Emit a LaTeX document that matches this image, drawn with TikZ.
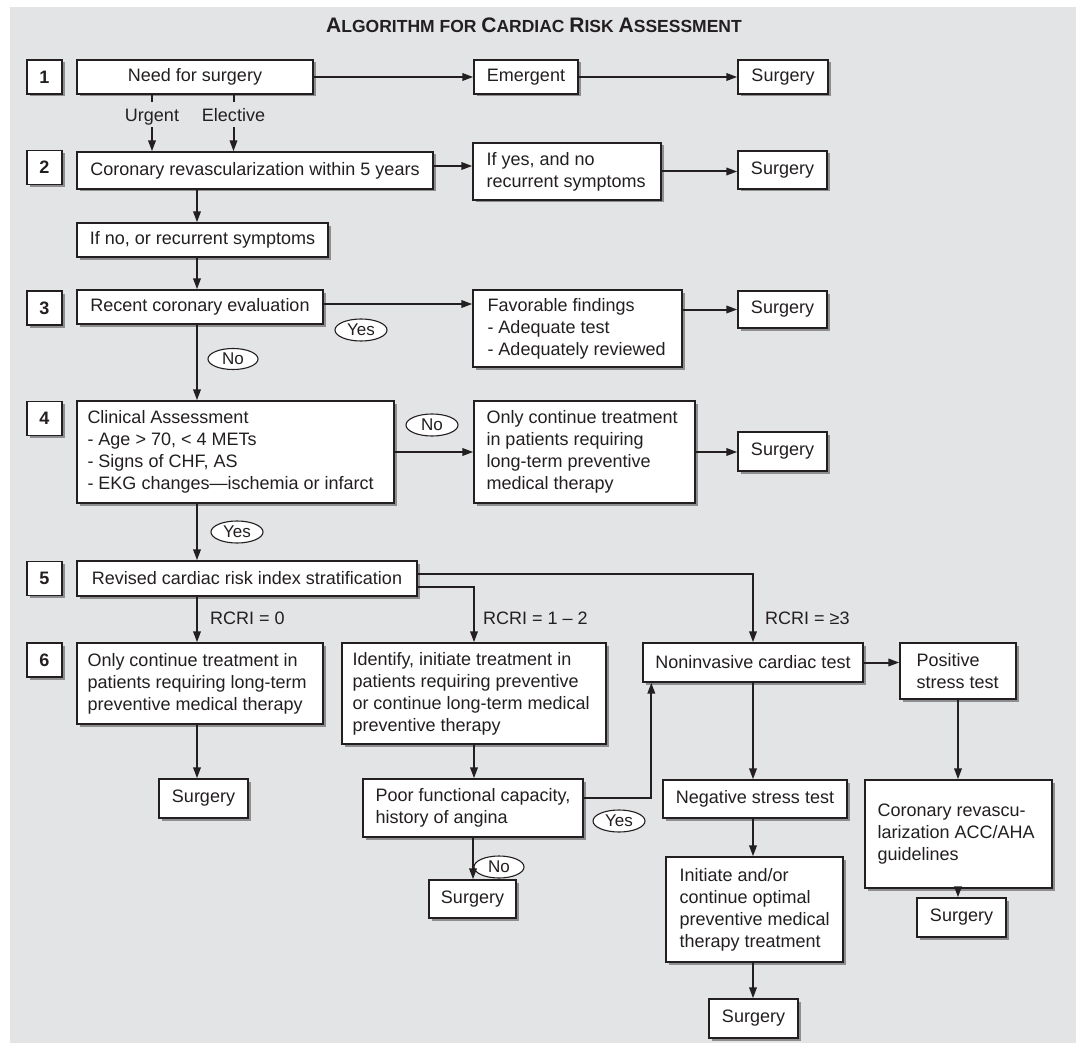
\documentclass[tikz,border=0pt]{standalone}
\usepackage{fontspec}
\setmainfont{Liberation Sans}
\usetikzlibrary{arrows.meta,shapes.geometric,shadows,calc}
\definecolor{panel}{HTML}{E3E4E6}
\definecolor{shad}{HTML}{8E8E90}
\definecolor{ink}{HTML}{231F20}
\newcommand\TTbig[1]{{\fontsize{21}{24}\selectfont #1}}
\begin{document}
\begin{tikzpicture}[x=1pt,y=-1pt,
  font=\fontsize{18}{22}\selectfont,
  box/.style={draw=ink, line width=1.4pt, fill=white, inner sep=0pt, text=ink, align=center,
    general shadow={fill=shad, shadow xshift=2.5pt, shadow yshift=-2.5pt}},
  txt/.style={inner sep=0pt, align=left, anchor=west, text=ink},
  numbox/.style={box, minimum width=35pt, minimum height=34pt, font=\bfseries\fontsize{18}{22}\selectfont},
  oval/.style={ellipse, draw=ink, line width=1.1pt, fill=white, inner sep=0pt, minimum width=52pt,
    minimum height=22pt, font=\fontsize{17}{20}\selectfont, text=ink},
  lbl/.style={inner sep=0pt, text=ink},
  arr/.style={draw=ink, line width=2pt, -{Triangle[length=11pt,width=7.5pt]}},
  ln/.style={draw=ink, line width=2pt},
]
\useasboundingbox (0,0) rectangle (1081,1043);
\fill[panel] (10,7) rectangle (1076,1043);

% title
\node[lbl, anchor=base, font=\bfseries\fontsize{17.5}{20}\selectfont] (title) at (534,33)
  {\TTbig{A}LGORITHM FOR \TTbig{C}ARDIAC \TTbig{R}ISK \TTbig{A}SSESSMENT};

\coordinate (spine) at (197,0);

% step numbers
\node[numbox] (s1) at (44.5,77) {1};
\node[numbox] (s2) at (44.5,167.5) {2};
\node[numbox] (s3) at (44.5,308) {3};
\node[numbox] (s4) at (44.5,418.5) {4};
\node[numbox] (s5) at (44.5,578.5) {5};
\node[numbox] (s6) at (44.5,660) {6};

% row 1
\node[box, minimum width=236pt, minimum height=34pt] (need) at (195,77) {Need for surgery};
\node[box, minimum width=104pt, minimum height=34pt] (emer) at (526,77) {Emergent};
\node[box, minimum width=90pt, minimum height=34pt] (surg1) at (783,77) {Surgery};
\node[lbl, anchor=base] (urg) at (152,121.5) {Urgent};
\node[lbl, anchor=base] (elec) at (233.5,121.5) {Elective};

% row 2
\node[box, minimum width=356pt, minimum height=37pt] (corev) at (255,170.5) {Coronary revascularization within 5 years};
\node[box, minimum width=188pt, minimum height=57pt] (ifyes) at (567,171.5) {};
\node[txt] (ifyesT) at ([xshift=14pt]ifyes.west) {If yes, and no\\recurrent symptoms};
\node[box, minimum width=89pt, minimum height=38pt] (surg2) at (782.5,170) {Surgery};
\node[box, minimum width=251pt, minimum height=34pt] (ifno) at (202.5,240) {If no, or recurrent symptoms};

% row 3
\node[box, minimum width=246pt, minimum height=34pt] (recent) at (200,307) {Recent coronary evaluation};
\node[box, minimum width=209pt, minimum height=77pt] (fav) at (577.5,328.5) {};
\node[txt] (favT) at ([xshift=15pt]fav.west) {Favorable findings\\- Adequate test\\- Adequately reviewed};
\node[box, minimum width=89pt, minimum height=37pt] (surg3) at (782.5,309.5) {Surgery};
\node[oval] (yes3) at (361,330) {Yes};
\node[oval, minimum width=50pt, minimum height=21pt] (no3) at (233,359) {No};

% row 4
\node[box, minimum width=317pt, minimum height=102pt] (clin) at (235.5,452) {};
\node[txt] (clinT) at ([xshift=11pt]clin.west) {Clinical Assessment\\- Age > 70, < 4 METs\\- Signs of CHF, AS\\- EKG changes—ischemia or infarct};
\node[box, minimum width=221pt, minimum height=102pt] (only4) at (584.5,452) {};
\node[txt] (only4T) at ([xshift=13pt]only4.west) {Only continue treatment\\in patients requiring\\long-term preventive\\medical therapy};
\node[box, minimum width=89pt, minimum height=39pt] (surg4) at (782.5,451.5) {Surgery};
\node[oval] (no4) at (432,425) {No};
\node[oval] (yes4) at (237,532) {Yes};

% row 5
\node[box, minimum width=340pt, minimum height=35pt] (rcri) at (247,578.5) {Revised cardiac risk index stratification};
\node[lbl, anchor=base west] (r0) at (210,624) {RCRI = 0};
\node[lbl, anchor=base west] (r12) at (483,624) {RCRI = 1 – 2};
\node[lbl, anchor=base west] (r3) at (765,624) {RCRI = ≥3};

% row 6
\node[box, minimum width=246pt, minimum height=81pt] (only6) at (200,683.5) {};
\node[txt] (only6T) at ([xshift=11pt]only6.west) {Only continue treatment in\\patients requiring long-term\\preventive medical therapy};
\node[box, minimum width=89pt, minimum height=39pt] (surg6a) at (203.5,798.5) {Surgery};
\node[box, minimum width=264pt, minimum height=101pt] (ident) at (474,693.5) {};
\node[txt] (identT) at ([xshift=11pt]ident.west) {Identify, initiate treatment in\\patients requiring preventive\\or continue long-term medical\\preventive therapy};
\node[box, minimum width=220pt, minimum height=58pt] (poor) at (473,808) {};
\node[txt] (poorT) at ([xshift=13pt]poor.west) {Poor functional capacity,\\history of angina};
\node[box, minimum width=87pt, minimum height=38pt] (surg6b) at (472.5,899) {Surgery};
\node[oval] (yes6) at (619,821) {Yes};
\node[oval, minimum width=50pt] (no6) at (499,867) {No};

\node[box, minimum width=220pt, minimum height=39pt] (nonin) at (753,662.5) {Noninvasive cardiac test};
\node[box, minimum width=116pt, minimum height=56pt] (pos) at (958,671) {};
\node[txt] (posT) at ([xshift=17pt]pos.west) {Positive\\stress test};
\node[box, minimum width=184pt, minimum height=38pt] (neg) at (755,799) {Negative stress test};
\node[box, minimum width=187pt, minimum height=108pt] (cor) at (958.5,834) {};
\node[txt] (corT) at ([xshift=13pt]cor.west) {Coronary revascu-\\larization ACC/AHA\\guidelines};
\node[box, minimum width=89pt, minimum height=39pt] (surg6c) at (961.5,917.5) {Surgery};
\node[box, minimum width=177pt, minimum height=105pt] (init) at (754.5,909.5) {};
\node[txt] (initT) at ([xshift=14pt]init.west) {Initiate and/or\\continue optimal\\preventive medical\\therapy treatment};
\node[box, minimum width=89pt, minimum height=39pt] (surg6d) at (753.5,1018.5) {Surgery};

% connectors row 1
\draw[arr] (need.east) -- (emer.west);
\draw[arr] (emer.east) -- (surg1.west);
\draw[ln] (need.south -| urg.base) -- ([yshift=19pt]urg.base);
\draw[ln] (need.south -| elec.base) -- ([yshift=19pt]elec.base);
\draw[arr] ([yshift=-6pt]urg.base) -- (urg.base |- corev.north);
\draw[arr] ([yshift=-6pt]elec.base) -- (elec.base |- corev.north);

% row 2
\draw[arr] ([yshift=4.5pt]corev.east) -- ([yshift=4.5pt]corev.east -| ifyes.west);
\draw[arr] (ifyes.east) -- (ifyes.east -| surg2.west);
\draw[arr] (corev.south -| spine) -- (ifno.north -| spine);
\draw[arr] (ifno.south -| spine) -- (recent.north -| spine);

% row 3
\draw[arr] ([yshift=3pt]recent.east) -- ([yshift=3pt]recent.east -| fav.west);
\draw[arr] (surg3.west -| fav.east) -- (surg3.west);
\draw[arr] (recent.south -| spine) -- (clin.north -| spine);

% row 4
\draw[arr] (clin.east) -- (clin.east -| only4.west);
\draw[arr] (only4.east) -- (only4.east -| surg4.west);
\draw[arr] (clin.south -| spine) -- (rcri.north -| spine);

% row 5
\draw[arr] (rcri.south -| spine) -- (only6.north -| spine);
\draw[arr] ([yshift=-8.5pt]rcri.east) -| (ident.north);
\draw[arr] ([yshift=4.5pt]rcri.east) -| (nonin.north);

% row 6
\draw[arr] (only6.south -| spine) -- (surg6a.north -| spine);
\draw[arr] (ident.south) -- (ident.south |- poor.north);
\draw[arr] ([yshift=10pt]poor.east) -| ([xshift=9pt]nonin.south west);
\draw[arr] (poor.south) -- (poor.south |- surg6b.north);
\draw[arr] (nonin.east) -- (nonin.east -| pos.west);
\draw[arr] (nonin.south) -- (nonin.south |- neg.north);
\draw[arr] (neg.south -| nonin.south) -- (init.north -| nonin.south);
\draw[arr] (init.south -| nonin.south) -- (surg6d.north -| nonin.south);
\draw[arr] (pos.south) -- (pos.south |- cor.north);
\draw[arr] (cor.south -| pos.south) -- (surg6c.north -| pos.south);
\end{tikzpicture}
\end{document}
